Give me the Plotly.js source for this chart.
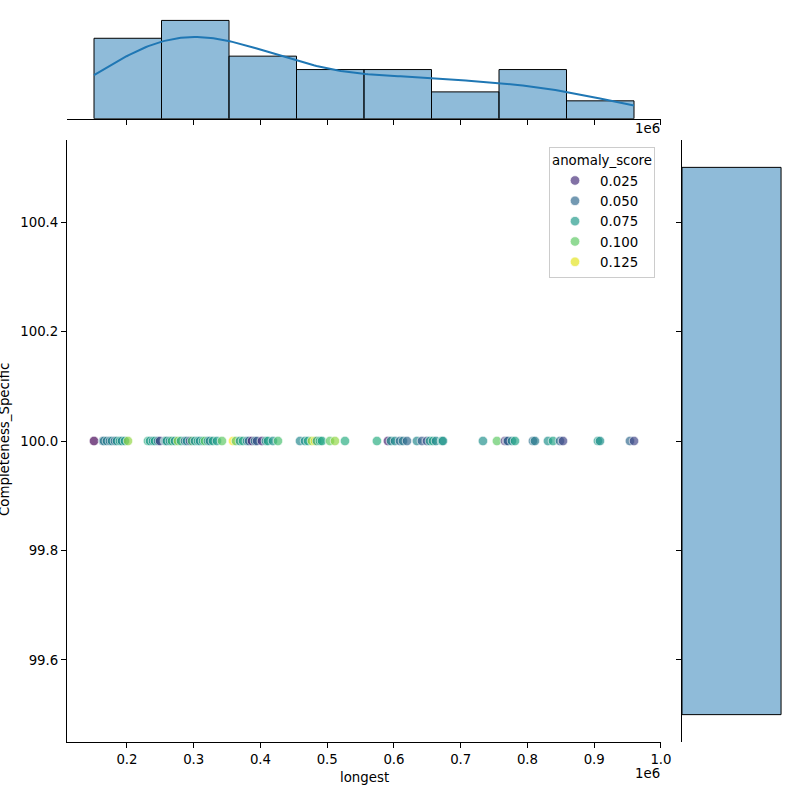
<!DOCTYPE html>
<html>
<head>
<meta charset="utf-8">
<script src="https://cdn.plot.ly/plotly-3.0.1.min.js"></script>
<style>html,body{margin:0;padding:0;background:#fff;}#chart{width:800px;height:800px;}</style>
</head>
<body>
<div id="chart"></div>
<script>
// ---- data ----
const longest = [
  150600,164000,165500,170000,174500,177500,182000,185000,189500,192500,197000,201500,231500,234500,239000,242000,246500,249500,
  256900,258400,259900,264400,267400,271900,276400,280900,286900,289900,294400,297400,301900,306400,309400,313900,316900,321300,324300,328800,334800,342300,
  358800,363300,369300,373800,379800,382800,387300,391800,394800,402200,408200,411200,418700,426200,
  459200,466700,471200,477100,481600,484600,489100,492100,504100,511600,526600,
  574500,591000,595500,601500,609000,613500,619500,634400,641900,649400,653900,
  658400,662900,671900,673400,733300,754300,
  766300,769300,770800,776800,781300,808200,811200,830700,838200,848700,853200,
  905600,908600,953500,959600
];
const anomalyScore = [
  0.010,0.050,0.060,0.060,0.055,0.065,0.050,0.070,0.080,0.065,0.075,0.110,0.085,0.075,0.070,0.080,0.060,0.030,
  0.070,0.050,0.080,0.065,0.090,0.070,0.110,0.080,0.055,0.065,0.035,0.095,0.070,0.080,0.065,0.085,0.100,0.070,0.060,0.080,0.075,0.100,
  0.130,0.100,0.070,0.085,0.065,0.045,0.020,0.060,0.040,0.025,0.075,0.080,0.070,0.095,
  0.065,0.070,0.080,0.115,0.125,0.075,0.085,0.080,0.100,0.110,0.085,
  0.085,0.020,0.070,0.065,0.050,0.060,0.050,0.065,0.045,0.040,0.075,
  0.080,0.065,0.080,0.070,0.070,0.100,
  0.025,0.035,0.050,0.065,0.080,0.055,0.060,0.070,0.080,0.050,0.035,
  0.075,0.070,0.050,0.035
];
const completenessSpecific = [
  100,100,100,100,100,100,100,100,100,100,100,100,100,100,100,100,100,100,
  100,100,100,100,100,100,100,100,100,100,100,100,100,100,100,100,100,100,100,100,100,100,
  100,100,100,100,100,100,100,100,100,100,100,100,100,100,
  100,100,100,100,100,100,100,100,100,100,100,
  100,100,100,100,100,100,100,100,100,100,100,
  100,100,100,100,100,100,
  100,100,100,100,100,100,100,100,100,100,100,
  100,100,100,100
];
const legendValues = [0.025, 0.050, 0.075, 0.100, 0.125];
const legendLabels = ['0.025', '0.050', '0.075', '0.100', '0.125'];
const xTickVals = [200000,300000,400000,500000,600000,700000,800000,900000,1000000];
const xTickText = ['0.2','0.3','0.4','0.5','0.6','0.7','0.8','0.9','1.0'];
const yTickVals = [99.6, 99.8, 100.0, 100.2, 100.4];
const yTickText = ['99.6','99.8','100.0','100.2','100.4'];

// ---- helpers ----
const viridis = [[0,'#440154'],[0.06274509803921569,'#48186a'],[0.12549019607843137,'#472d7b'],[0.18823529411764706,'#424086'],[0.25098039215686274,'#3b528b'],[0.3137254901960784,'#33638d'],[0.3764705882352941,'#2c728e'],[0.4392156862745098,'#26828e'],[0.5019607843137255,'#21918c'],[0.5647058823529412,'#1fa088'],[0.6274509803921569,'#28ae80'],[0.6901960784313725,'#3fbc73'],[0.7529411764705882,'#5ec962'],[0.8156862745098039,'#84d44b'],[0.8784313725490196,'#addc30'],[0.9411764705882353,'#d8e219'],[1,'#fde725']];
const ALPHA = 0.68;
function hex2rgb(h){return [parseInt(h.slice(1,3),16),parseInt(h.slice(3,5),16),parseInt(h.slice(5,7),16)];}
function viridisAt(t){
  t=Math.max(0,Math.min(1,t));
  for(let i=0;i<viridis.length-1;i++){
    const a=viridis[i],b=viridis[i+1];
    if(t<=b[0]){const f=(t-a[0])/(b[0]-a[0]);const ca=hex2rgb(a[1]),cb=hex2rgb(b[1]);
      return 'rgba('+ca.map((v,k)=>Math.round(v+(cb[k]-v)*f)).join(',')+','+ALPHA+')';}
  }
  return 'rgba(253,231,37,'+ALPHA+')';
}
const cmin=Math.min(...anomalyScore), cmax=Math.max(...anomalyScore);
const W=800,H=800;
const px=v=>v/W, py=v=>1-v/H;

// histogram (top)
const n=longest.length;
const xmin=Math.min(...longest), xmax=Math.max(...longest);
const nb=8, bw=(xmax-xmin)/nb;
const counts=new Array(nb).fill(0);
longest.forEach(v=>{let k=Math.floor((v-xmin)/bw); if(k>=nb)k=nb-1; counts[k]++;});
const centers=counts.map((c,i)=>xmin+bw*(i+0.5));
// KDE (Scott)
const mean=longest.reduce((a,b)=>a+b,0)/n;
const sd=Math.sqrt(longest.reduce((a,b)=>a+(b-mean)**2,0)/(n-1));
const h=sd*Math.pow(n,-0.2);
const kx=[],ky=[];
for(let i=0;i<200;i++){
  const x=xmin+(xmax-xmin)*i/199;
  let s=0; longest.forEach(v=>{s+=Math.exp(-0.5*((x-v)/h)**2);});
  const d=s/(n*h*Math.sqrt(2*Math.PI));
  kx.push(x); ky.push(d*n*bw);
}
// right histogram (constant data)
const ymn=Math.min(...completenessSpecific), ymx=Math.max(...completenessSpecific);
const ylo= ymn===ymx ? ymn-0.5 : ymn, yhi= ymn===ymx ? ymx+0.5 : ymx;
const rCount=completenessSpecific.filter(v=>v>=ylo&&v<=yhi).length;

const xr=[xmin-0.05*(xmax-xmin), xmax+0.05*(xmax-xmin)];
const yr=[ylo-0.05*(yhi-ylo), yhi+0.05*(yhi-ylo)];
const font={family:'DejaVu Sans', size:13.33, color:'#000'};

const pointColors=anomalyScore.map(v=>viridisAt((v-cmin)/(cmax-cmin)));
const traces=[
  {type:'scatter',mode:'markers',x:longest,y:completenessSpecific,xaxis:'x',yaxis:'y',showlegend:false,hoverinfo:'skip',
   marker:{size:9.5,color:pointColors,line:{color:'rgba(255,255,255,0.8)',width:0.8}}},
  {type:'bar',x:centers,y:counts,width:bw,xaxis:'x2',yaxis:'y2',showlegend:false,hoverinfo:'skip',
   marker:{color:'rgba(31,119,180,0.5)',line:{color:'#000',width:1}}},
  {type:'scatter',mode:'lines',x:kx,y:ky,xaxis:'x2',yaxis:'y2',showlegend:false,hoverinfo:'skip',
   line:{color:'#1f77b4',width:2}},
  {type:'bar',orientation:'h',y:[(ylo+yhi)/2],x:[rCount],width:yhi-ylo,xaxis:'x3',yaxis:'y3',showlegend:false,hoverinfo:'skip',
   marker:{color:'rgba(31,119,180,0.5)',line:{color:'#000',width:1}}}
];
legendValues.forEach((v,i)=>{
  traces.push({type:'scatter',mode:'markers',x:[null],y:[null],xaxis:'x',yaxis:'y',name:legendLabels[i],showlegend:true,
    marker:{size:9.5,color:viridisAt((v-cmin)/(cmax-cmin)),line:{color:'rgba(255,255,255,0.8)',width:0.8}}});
});

const axBase={showgrid:false,zeroline:false,showline:true,linecolor:'#000',linewidth:1,ticks:'outside',ticklen:5,tickwidth:1,tickcolor:'#000',tickfont:font};
const layout={
  width:W,height:H,margin:{l:0,r:0,t:0,b:0},paper_bgcolor:'#fff',plot_bgcolor:'rgba(0,0,0,0)',
  font:font,
  xaxis:Object.assign({},axBase,{domain:[px(67),px(661)],range:xr,tickvals:xTickVals,ticktext:xTickText,anchor:'y'}),
  yaxis:Object.assign({},axBase,{domain:[py(742),py(140)],range:yr,tickvals:yTickVals,ticktext:yTickText,anchor:'x'}),
  xaxis2:Object.assign({},axBase,{domain:[px(67),px(661)],range:xr,tickvals:xTickVals,showticklabels:false,anchor:'y2'}),
  yaxis2:{domain:[py(118.7),py(15.5)],range:[0,Math.max(...counts)*1.05],visible:false,anchor:'x2'},
  xaxis3:{domain:[px(682),px(786)],range:[0,rCount*1.05],visible:false,anchor:'y3'},
  yaxis3:Object.assign({},axBase,{domain:[py(742),py(140)],range:yr,tickvals:yTickVals,showticklabels:false,anchor:'x3'}),
  showlegend:true,
  legend:{x:px(655),y:py(147),xanchor:'right',yanchor:'top',bgcolor:'rgba(255,255,255,0.8)',bordercolor:'#cccccc',borderwidth:1,
    font:font,title:{text:'anomaly_score',side:'top center',font:font},itemwidth:40,tracegroupgap:0},
  annotations:[
    {text:'longest',xref:'paper',yref:'paper',x:px(364),y:py(777),xanchor:'center',yanchor:'middle',showarrow:false,font:font},
    {text:'Completeness_Specific',xref:'paper',yref:'paper',x:px(4),y:py(440),xanchor:'center',yanchor:'middle',textangle:-90,showarrow:false,font:font},
    {text:'1e6',xref:'paper',yref:'paper',x:px(662),y:py(773),xanchor:'right',yanchor:'middle',showarrow:false,font:font},
    {text:'1e6',xref:'paper',yref:'paper',x:px(662),y:py(128),xanchor:'right',yanchor:'middle',showarrow:false,font:font}
  ]
};
Plotly.newPlot('chart',traces,layout,{staticPlot:true});
</script>
</body>
</html>
